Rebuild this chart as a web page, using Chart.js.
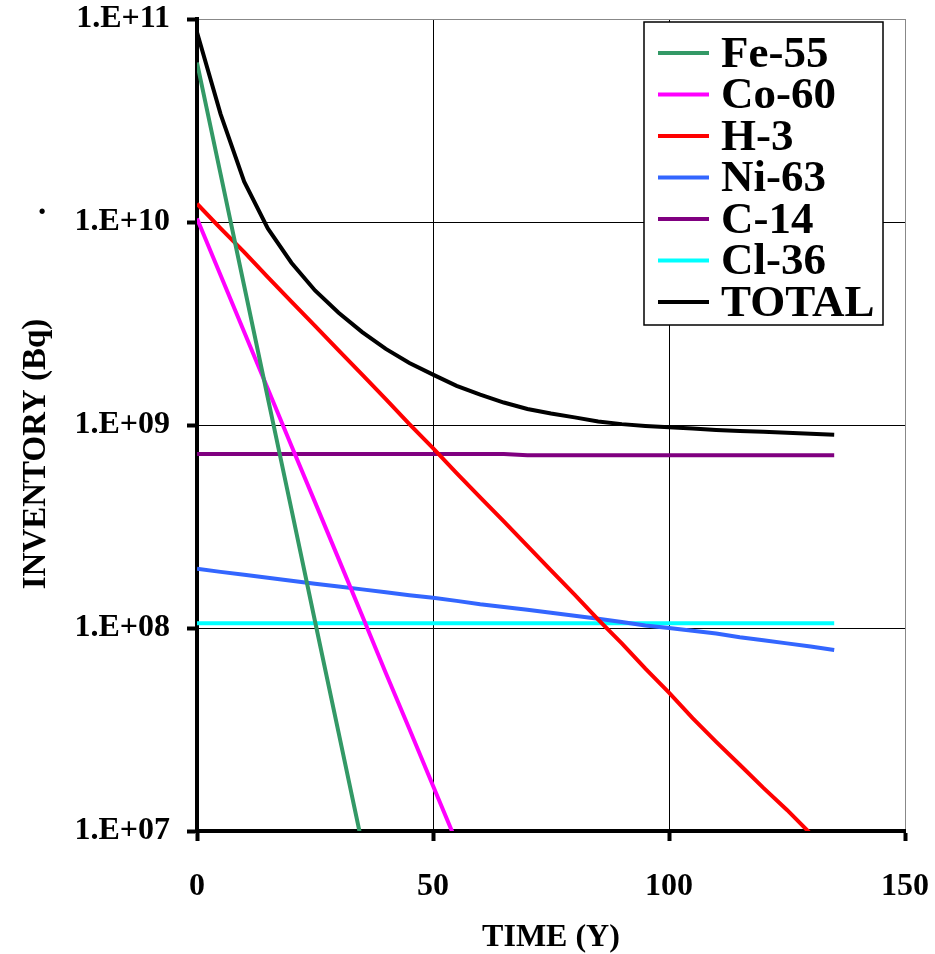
<!DOCTYPE html>
<html>
<head>
<meta charset="utf-8">
<script src="https://cdn.jsdelivr.net/npm/chart.js@4"></script>
<style>
  body { margin: 0; background: #fff; }
  #wrap { width: 935px; height: 954px; position: relative; }
</style>
</head>
<body>
<div id="wrap"><canvas id="inventoryChart"></canvas></div>
<script>
// years after shutdown
const years = [0, 5, 10, 15, 20, 25, 30, 35, 40, 45, 50, 55, 60, 65, 70, 75, 80, 85, 90, 95, 100, 105, 110, 115, 120, 125, 130, 135]

const fe55 = [6.1e10, 1.72e10, 4.84e9, 1.36e9, 3.85e8, 1.08e8, 3.05e7, 8.6e6, 2.4e6]
const co60 = [1.04e10, 5.46e9, 2.87e9, 1.51e9, 7.9e8, 4.17e8, 2.19e8, 1.15e8, 6.0e7, 3.18e7, 1.67e7, 8.8e6]
const h3 = [1.23e10, 9.3e9, 7.1e9, 5.35e9, 4.05e9, 3.08e9, 2.33e9, 1.77e9, 1.34e9, 1.01e9, 7.7e8, 5.8e8, 4.4e8, 3.35e8,
  2.54e8, 1.92e8, 1.46e8, 1.1e8, 8.4e7, 6.3e7, 4.8e7, 3.6e7, 2.75e7, 2.12e7, 1.63e7, 1.27e7, 9.7e6, 7.4e6]
const ni63 = [1.96e8, 1.89e8, 1.83e8, 1.77e8, 1.71e8, 1.65e8, 1.6e8, 1.55e8, 1.5e8, 1.45e8, 1.41e8, 1.36e8, 1.31e8, 1.27e8,
  1.23e8, 1.19e8, 1.15e8, 1.11e8, 1.07e8, 1.03e8, 1.0e8, 0.97e8, 0.94e8, 0.9e8, 0.87e8, 0.84e8, 0.81e8, 0.78e8]
const c14 = [7.2e8, 7.2e8, 7.2e8, 7.2e8, 7.2e8, 7.2e8, 7.2e8, 7.2e8, 7.2e8, 7.2e8, 7.2e8, 7.2e8, 7.2e8, 7.2e8,
  7.1e8, 7.1e8, 7.1e8, 7.1e8, 7.1e8, 7.1e8, 7.1e8, 7.1e8, 7.1e8, 7.1e8, 7.1e8, 7.1e8, 7.1e8, 7.1e8]
const cl36 = [1.055e8, 1.055e8, 1.055e8, 1.055e8, 1.055e8, 1.055e8, 1.055e8, 1.055e8, 1.055e8, 1.055e8, 1.055e8, 1.055e8, 1.055e8, 1.055e8,
  1.055e8, 1.055e8, 1.055e8, 1.055e8, 1.055e8, 1.055e8, 1.055e8, 1.055e8, 1.055e8, 1.055e8, 1.055e8, 1.055e8, 1.055e8, 1.055e8]
const total = [8.6e10, 3.4e10, 1.58e10, 9.3e9, 6.3e9, 4.6e9, 3.57e9, 2.87e9, 2.37e9, 2.02e9, 1.77e9, 1.56e9, 1.41e9, 1.29e9,
  1.2e9, 1.14e9, 1.09e9, 1.04e9, 1.01e9, 0.99e9, 0.975e9, 0.96e9, 0.945e9, 0.935e9, 0.925e9, 0.915e9, 0.905e9, 0.895e9]

const yTicks = [1e7, 1e8, 1e9, 1e10, 1e11]
const yTickLabels = ["1.E+07", "1.E+08", "1.E+09", "1.E+10", "1.E+11"]
const xTicks = [0, 50, 100, 150]

const FONT = "'Liberation Serif', 'Times New Roman', serif"

function points(values) {
  return values.map((v, i) => ({ x: years[i], y: v }))
}

function series(label, values, color) {
  return {
    label: label,
    data: points(values),
    borderColor: color,
    backgroundColor: color,
    borderWidth: 4,
    pointRadius: 0,
    fill: false,
    tension: 0,
  }
}

// boxed legend inside the plot (top right) + y axis title
const boxLegend = {
  id: "boxLegend",
  afterDraw(chart) {
    const ctx = chart.ctx
    ctx.save()
    ctx.fillStyle = "#fff"
    ctx.fillRect(644, 22, 239, 303)
    ctx.strokeStyle = "#000"
    ctx.lineWidth = 1.5
    ctx.strokeRect(644, 22, 239, 303)
    ctx.font = "bold 45px " + FONT
    ctx.textBaseline = "middle"
    chart.data.datasets.forEach((ds, i) => {
      const y = 53 + i * 41.5
      ctx.strokeStyle = ds.borderColor
      ctx.lineWidth = 4
      ctx.beginPath()
      ctx.moveTo(658, y)
      ctx.lineTo(709, y)
      ctx.stroke()
      ctx.fillStyle = "#000"
      ctx.fillText(ds.label, 721, y + 2)
    })

    // y title, a bit below the middle as in the original
    ctx.fillStyle = "#000"
    ctx.font = "bold 33px " + FONT
    ctx.textAlign = "center"
    ctx.textBaseline = "middle"
    ctx.translate(36, 454)
    ctx.rotate(-Math.PI / 2)
    ctx.fillText("INVENTORY (Bq)", 0, 0)
    ctx.setTransform(1, 0, 0, 1, 0, 0)
    // stray dot left of the axis
    ctx.textBaseline = "alphabetic"
    ctx.fillText(".", 42, 214)
    ctx.restore()
  },
}

inventoryChart("inventoryChart")

function inventoryChart(canvasId) {
  const data = {
    datasets: [
      series("Fe-55", fe55, "#339966"),
      series("Co-60", co60, "#ff00ff"),
      series("H-3", h3, "#ff0000"),
      series("Ni-63", ni63, "#3366ff"),
      series("C-14", c14, "#800080"),
      series("Cl-36", cl36, "#00ffff"),
      series("TOTAL", total, "#000000"),
    ],
  }

  const config = {
    type: "line",
    data: data,
    plugins: [boxLegend],
    options: {
      responsive: true,
      maintainAspectRatio: false,
      animation: false,
      layout: { padding: { top: 19, right: 30, left: 0, bottom: 0 } },
      plugins: {
        legend: { display: false },
        tooltip: { enabled: false },
      },
      scales: {
        x: {
          type: "linear",
          min: 0,
          max: 150,
          afterBuildTicks: (scale) => {
            scale.ticks = xTicks.map((v) => ({ value: v }))
          },
          afterFit: (scale) => {
            scale.height = 954 - 831
            scale.paddingLeft = 0
            scale.paddingRight = 0
          },
          ticks: {
            color: "#000",
            padding: 27,
            maxRotation: 0,
            font: { family: FONT, size: 32, weight: "bold" },
          },
          grid: {
            color: (c) => (c.tick && c.tick.value === 150 ? "#888" : "#000"),
            lineWidth: 1,
            tickLength: 10,
            tickColor: "#000",
            tickWidth: 4,
          },
          border: { color: "#000", width: 4 },
          title: {
            display: true,
            text: "TIME (Y)",
            color: "#000",
            padding: { top: 0, bottom: 0 },
            font: { family: FONT, size: 32, weight: "bold", lineHeight: 1 },
          },
        },
        y: {
          type: "logarithmic",
          min: 1e7,
          max: 1e11,
          afterBuildTicks: (scale) => {
            scale.ticks = yTicks.map((v) => ({ value: v }))
          },
          afterFit: (scale) => {
            scale.width = 197
            scale.paddingTop = 0
            scale.paddingBottom = 0
          },
          ticks: {
            color: "#000",
            padding: 17,
            font: { family: FONT, size: 32, weight: "bold" },
            callback: (value) => yTickLabels[yTicks.indexOf(value)],
          },
          grid: {
            color: (c) => (c.tick && c.tick.value === 1e11 ? "#888" : "#000"),
            lineWidth: 1,
            tickLength: 10,
            tickColor: "#000",
            tickWidth: 4,
          },
          border: { color: "#000", width: 4 },
        },
      },
    },
  }
  new Chart(document.getElementById(canvasId), config)
}
</script>
</body>
</html>
